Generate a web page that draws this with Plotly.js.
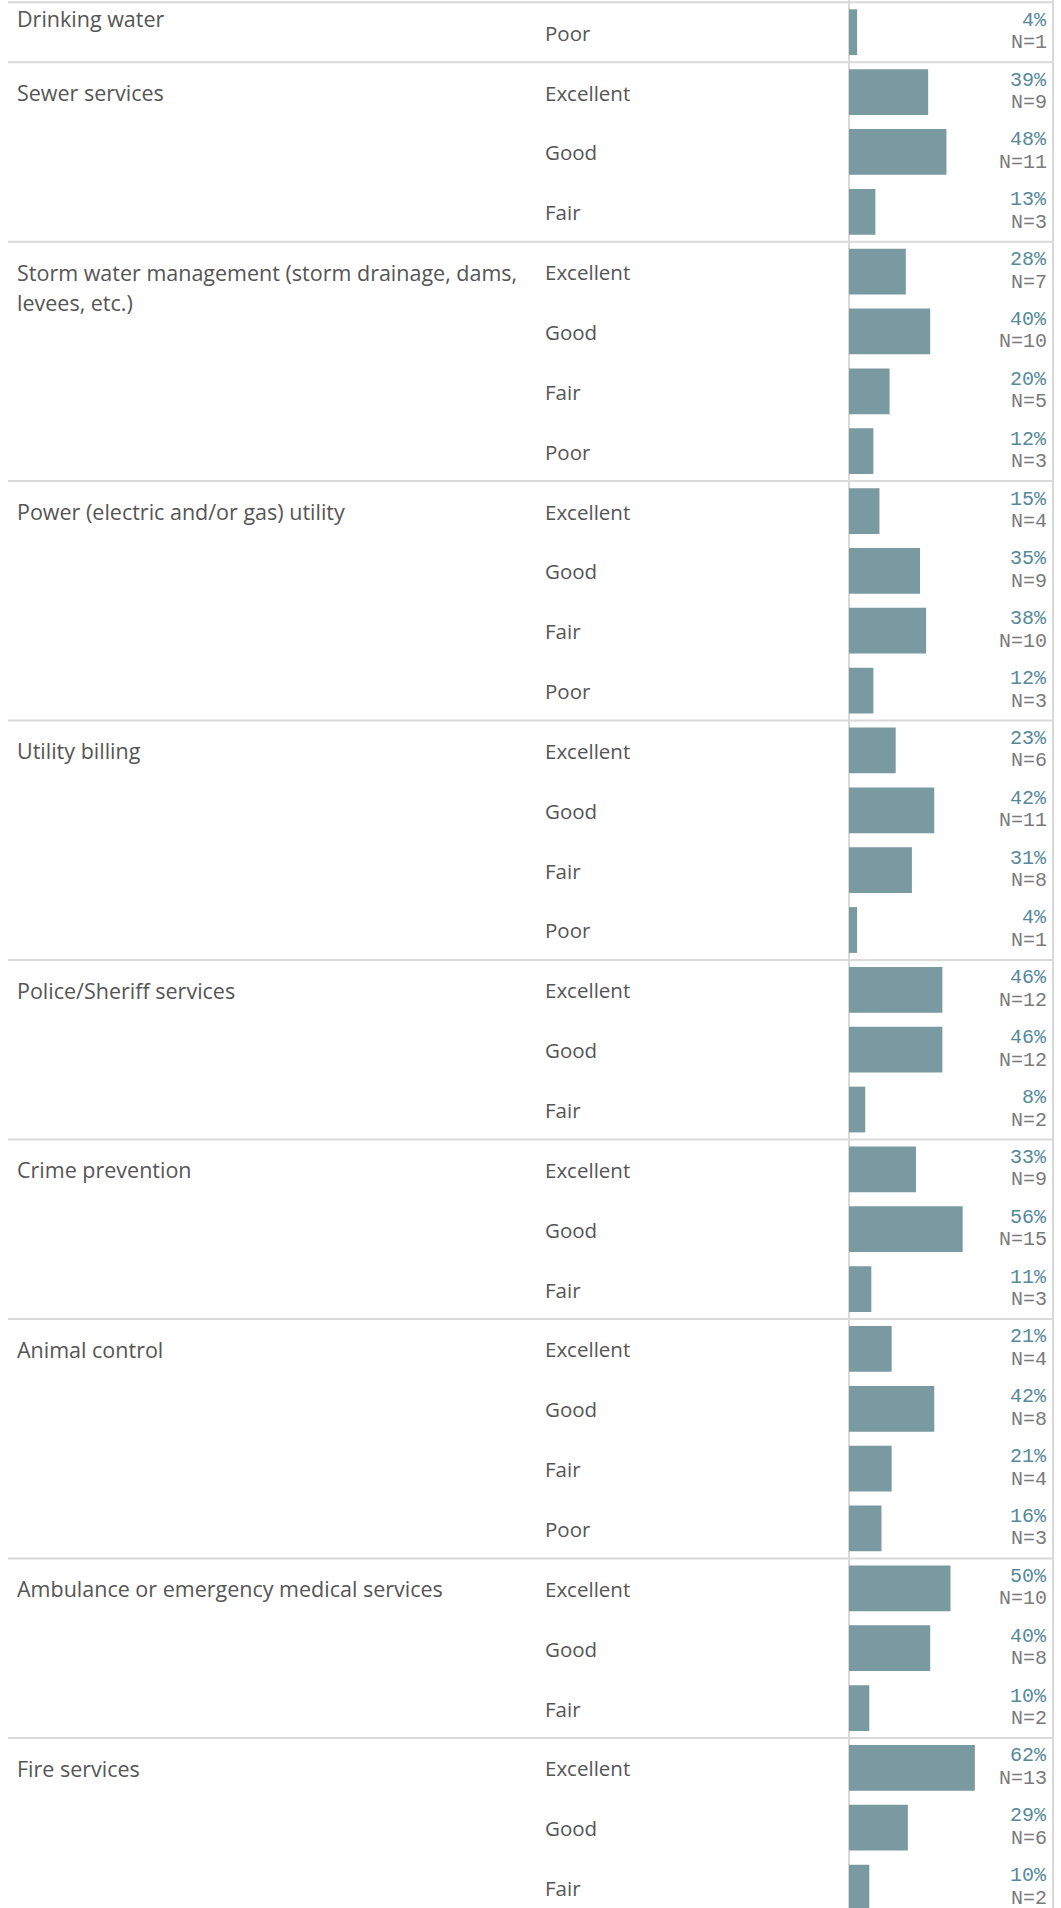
<!DOCTYPE html>
<html>
<head>
<meta charset="utf-8">
<script src="https://cdn.plot.ly/plotly-3.0.1.min.js"></script>
<style>html,body{margin:0;padding:0;background:#fff;overflow:hidden}</style>
</head>
<body>
<div id="chart" style="width:1061px;height:1908px"></div>
<script>
// ---- data ----
const services = [
  "Drinking water",
  "Sewer services",
  "Storm water management (storm drainage, dams,<br>levees, etc.)",
  "Power (electric and/or gas) utility",
  "Utility billing",
  "Police/Sheriff services",
  "Crime prevention",
  "Animal control",
  "Ambulance or emergency medical services",
  "Fire services"
];
const ratings = [
  ["Poor"],
  ["Excellent", "Good", "Fair"],
  ["Excellent", "Good", "Fair", "Poor"],
  ["Excellent", "Good", "Fair", "Poor"],
  ["Excellent", "Good", "Fair", "Poor"],
  ["Excellent", "Good", "Fair"],
  ["Excellent", "Good", "Fair"],
  ["Excellent", "Good", "Fair", "Poor"],
  ["Excellent", "Good", "Fair"],
  ["Excellent", "Good", "Fair"]
];
const percents = [
  [4],
  [39, 48, 13],
  [28, 40, 20, 12],
  [15, 35, 38, 12],
  [23, 42, 31, 4],
  [46, 46, 8],
  [33, 56, 11],
  [21, 42, 21, 16],
  [50, 40, 10],
  [62, 29, 10]
];
const counts = [
  [1],
  [9, 11, 3],
  [7, 10, 5, 3],
  [4, 9, 10, 3],
  [6, 11, 8, 1],
  [12, 12, 2],
  [9, 15, 3],
  [4, 8, 4, 3],
  [10, 8, 2],
  [13, 6, 2]
];

// ---- layout constants (pixels) ----
const W = 1061, H = 1908;
const AXIS_PX = 849;      // where bars start
const PCT_PX = 2.03;      // pixels per percent
const TOP_PX = 2.3;       // top border
const ROW_PX = 59.85;     // row pitch
const LABEL_FONT = "Open Sans, Noto Sans, sans-serif";
const MONO_FONT = "Courier New, Liberation Mono, monospace";
const TEXT_COL = "#555555";
const BAR_COL = "#7a9aa1";
const PCT_COL = "#56899a";
const N_COL = "#7a7a7a";
const LINE_COL = "#d9d9d9";

// ---- build rows ----
const rowY = [], rowPct = [], rowRating = [], rowN = [];
const groupStart = [];
let idx = 0;
services.forEach((s, g) => {
  groupStart.push(idx);
  ratings[g].forEach((r, k) => {
    rowY.push(idx);
    rowPct.push(percents[g][k]);
    rowRating.push(r);
    rowN.push(counts[g][k]);
    idx++;
  });
});

const topVal = -0.5 - TOP_PX / ROW_PX;
const bottomVal = topVal + H / ROW_PX;

const annotations = [];
// rating labels and value labels
rowY.forEach((y, i) => {
  annotations.push({
    xref: "paper", yref: "y", x: 542.5 / W, y: y, xanchor: "left", yanchor: "middle",
    text: rowRating[i], showarrow: false, yshift: -0.5,
    font: {family: LABEL_FONT, size: 20.5, color: TEXT_COL}
  });
  annotations.push({
    xref: "paper", yref: "y", x: 1049 / W, y: y, xanchor: "right", yanchor: "middle",
    text: rowPct[i] + "%", showarrow: false, yshift: 12,
    font: {family: MONO_FONT, size: 20, color: PCT_COL}
  });
  annotations.push({
    xref: "paper", yref: "y", x: 1049 / W, y: y, xanchor: "right", yanchor: "middle",
    text: "N=" + rowN[i], showarrow: false, yshift: -10.5,
    font: {family: MONO_FONT, size: 20, color: N_COL}
  });
});
// group labels
services.forEach((s, g) => {
  const lines = s.split("<br>");
  lines.forEach((ln, j) => {
    annotations.push({
      xref: "paper", yref: "y", x: 15 / W, y: groupStart[g], xanchor: "left", yanchor: "middle",
      text: ln, showarrow: false,
      yshift: -0.5 - j * 30 + (g === 0 ? 14 : 0),
      font: {family: LABEL_FONT, size: 21.5, color: TEXT_COL}
    });
  });
});

const shapes = [];
groupStart.forEach(s => {
  shapes.push({
    type: "line", xref: "paper", yref: "y", x0: 8 / W, x1: 1053 / W, y0: s - 0.5, y1: s - 0.5,
    line: {color: LINE_COL, width: 2}, layer: "below"
  });
});
shapes.push({type: "line", xref: "x", yref: "paper", x0: 0, x1: 0, y0: 0, y1: 1,
  line: {color: LINE_COL, width: 2}, layer: "below"});
shapes.push({type: "line", xref: "paper", yref: "paper", x0: 1053 / W, x1: 1053 / W, y0: 0, y1: 1,
  line: {color: LINE_COL, width: 2}, layer: "below"});

const trace = {
  type: "bar", orientation: "h",
  x: rowPct, y: rowY, width: 0.765,
  marker: {color: BAR_COL, line: {width: 0}},
  hoverinfo: "skip"
};

const layout = {
  width: W, height: H,
  margin: {l: 0, r: 0, t: 0, b: 0, pad: 0},
  paper_bgcolor: "#ffffff", plot_bgcolor: "#ffffff",
  showlegend: false,
  xaxis: {range: [-AXIS_PX / PCT_PX, (W - AXIS_PX) / PCT_PX], showgrid: false, zeroline: false,
          showticklabels: false, showline: false, fixedrange: true},
  yaxis: {range: [bottomVal, topVal], showgrid: false, zeroline: false,
          showticklabels: false, showline: false, fixedrange: true},
  annotations: annotations,
  shapes: shapes
};

Plotly.newPlot("chart", [trace], layout, {staticPlot: true, displayModeBar: false});
</script>
</body>
</html>
